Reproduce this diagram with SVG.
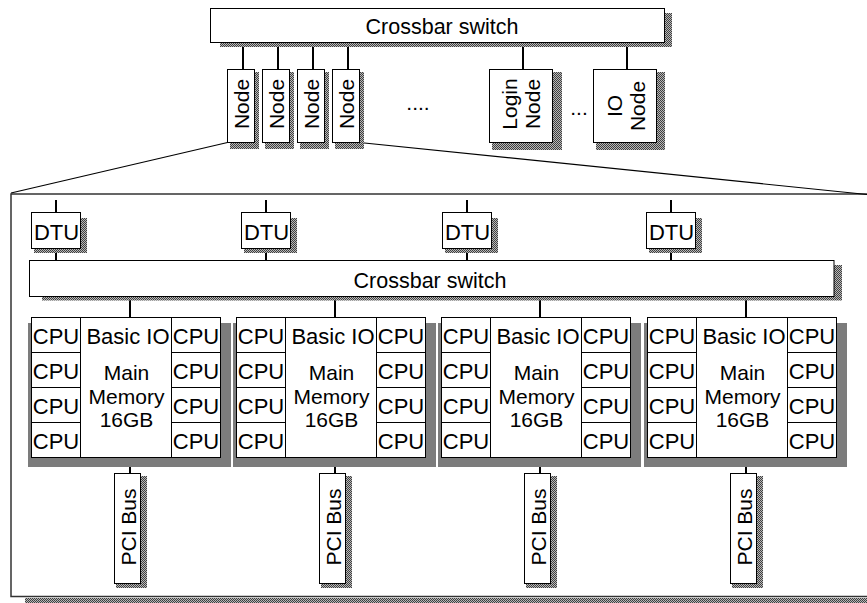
<svg xmlns="http://www.w3.org/2000/svg" width="867" height="603" viewBox="0 0 867 603">
<defs>
<pattern id="sh" width="2" height="2" patternUnits="userSpaceOnUse"><rect width="2" height="2" fill="#b8b8b8"/><rect width="1" height="1" fill="#404040"/><rect x="1" y="1" width="1" height="1" fill="#404040"/></pattern>
</defs>
<style>
.box{fill:#fff;stroke:#000;stroke-width:1}
.shd{fill:url(#sh)}
.t{font-family:"Liberation Sans",Arial,sans-serif;font-size:21px;fill:#000}
.b{font-size:21.5px}
.k{font-size:22px}
.m{text-anchor:middle}
.c{stroke:#000;stroke-width:2;fill:none}
.d{stroke:#000;stroke-width:1.2;fill:none}
</style>
<rect width="867" height="603" fill="#fff"/>

<g id="container">
<rect class="shd" x="25" y="598" width="850" height="5"/>
<rect x="11" y="194" width="870" height="402.5" fill="none" stroke="#333" stroke-width="1.5"/>
</g>

<g id="connectors">
<line class="d" x1="227.5" y1="142.5" x2="11" y2="193"/>
<line class="d" x1="359.5" y1="142.5" x2="867" y2="194.5"/>
<line class="c" x1="243" y1="42.5" x2="243" y2="69.5"/>
<line class="c" x1="278" y1="42.5" x2="278" y2="69.5"/>
<line class="c" x1="313" y1="42.5" x2="313" y2="69.5"/>
<line class="c" x1="348" y1="42.5" x2="348" y2="69.5"/>
<line class="c" x1="523" y1="42.5" x2="523" y2="69.5"/>
<line class="c" x1="627" y1="42.5" x2="627" y2="69.5"/>
<line class="c" x1="56" y1="200" x2="56" y2="212.5"/>
<line class="c" x1="266" y1="200" x2="266" y2="212.5"/>
<line class="c" x1="467" y1="200" x2="467" y2="212.5"/>
<line class="c" x1="671" y1="200" x2="671" y2="212.5"/>
<line class="c" x1="56" y1="248.5" x2="56" y2="260.5"/>
<line class="c" x1="266" y1="248.5" x2="266" y2="260.5"/>
<line class="c" x1="467" y1="248.5" x2="467" y2="260.5"/>
<line class="c" x1="671" y1="248.5" x2="671" y2="260.5"/>
<line class="c" x1="130" y1="296.5" x2="130" y2="317.5"/>
<line class="c" x1="335" y1="296.5" x2="335" y2="317.5"/>
<line class="c" x1="540" y1="296.5" x2="540" y2="317.5"/>
<line class="c" x1="746" y1="296.5" x2="746" y2="317.5"/>
<line class="c" x1="130" y1="457.5" x2="130" y2="473.5"/>
<line class="c" x1="335" y1="457.5" x2="335" y2="473.5"/>
<line class="c" x1="540" y1="457.5" x2="540" y2="473.5"/>
<line class="c" x1="746" y1="457.5" x2="746" y2="473.5"/>
</g>

<g id="crossbar-top">
<rect class="shd" x="220" y="13" width="452" height="34"/>
<rect class="box" x="210.5" y="8.5" width="454" height="34"/>
<text class="t b m" x="442" y="33.5">Crossbar switch</text>
</g>

<g id="node1">
<rect class="shd" x="230" y="72" width="29" height="77"/>
<rect class="box" x="227.5" y="69.5" width="27" height="73"/>
<text class="t m" transform="translate(248.5,104) rotate(-90)">Node</text>
</g>
<g id="node2">
<rect class="shd" x="265" y="72" width="29" height="77"/>
<rect class="box" x="262.5" y="69.5" width="27" height="73"/>
<text class="t m" transform="translate(283.5,104) rotate(-90)">Node</text>
</g>
<g id="node3">
<rect class="shd" x="300" y="72" width="29" height="77"/>
<rect class="box" x="297.5" y="69.5" width="27" height="73"/>
<text class="t m" transform="translate(318.5,104) rotate(-90)">Node</text>
</g>
<g id="node4">
<rect class="shd" x="335" y="72" width="29" height="77"/>
<rect class="box" x="332.5" y="69.5" width="27" height="73"/>
<text class="t m" transform="translate(353.5,104) rotate(-90)">Node</text>
</g>
<g id="dots1"><text class="t m" x="418" y="110">....</text></g>
<g id="login-node">
<rect class="shd" x="492" y="72" width="70" height="78"/>
<rect class="box" x="489.5" y="69.5" width="63" height="73"/>
<text class="t m" transform="translate(516.8,104) rotate(-90)">Login</text>
<text class="t m" transform="translate(540.2,104) rotate(-90)">Node</text>
</g>
<g id="dots2"><text class="t m" x="579" y="115">...</text></g>
<g id="io-node">
<rect class="shd" x="596" y="72" width="69" height="78"/>
<rect class="box" x="593.5" y="69.5" width="63" height="73"/>
<text class="t m" transform="translate(621.5,106) rotate(-90)">IO</text>
<text class="t m" transform="translate(645,106) rotate(-90)">Node</text>
</g>

<g id="dtu1">
<rect class="shd" x="34" y="218" width="53" height="35"/>
<rect class="box" x="31.5" y="212.5" width="49" height="36"/>
<text class="t k m" x="56.5" y="240">DTU</text>
</g>
<g id="dtu2">
<rect class="shd" x="244" y="218" width="53" height="35"/>
<rect class="box" x="241.5" y="212.5" width="49" height="36"/>
<text class="t k m" x="266.5" y="240">DTU</text>
</g>
<g id="dtu3">
<rect class="shd" x="445" y="218" width="53" height="35"/>
<rect class="box" x="442.5" y="212.5" width="49" height="36"/>
<text class="t k m" x="467.5" y="240">DTU</text>
</g>
<g id="dtu4">
<rect class="shd" x="649" y="218" width="53" height="35"/>
<rect class="box" x="646.5" y="212.5" width="49" height="36"/>
<text class="t k m" x="671.5" y="240">DTU</text>
</g>

<g id="crossbar-inner">
<rect class="shd" x="42" y="265" width="800" height="35.5"/>
<rect class="box" x="29.5" y="260.5" width="804.5" height="36"/>
<text class="t b m" x="430" y="287.5">Crossbar switch</text>
</g>

<g id="board1" transform="translate(31.5,0)">
<rect class="shd" x="-3.5" y="323" width="203" height="144"/>
<rect class="box" x="0" y="317.5" width="189" height="140"/>
<rect class="box" x="0" y="317.5" width="49" height="35"/><rect class="box" x="0" y="352.5" width="49" height="35"/><rect class="box" x="0" y="387.5" width="49" height="35"/><rect class="box" x="0" y="422.5" width="49" height="35"/>
<rect class="box" x="140" y="317.5" width="49" height="35"/><rect class="box" x="140" y="352.5" width="49" height="35"/><rect class="box" x="140" y="387.5" width="49" height="35"/><rect class="box" x="140" y="422.5" width="49" height="35"/>
<text class="t k m" x="24.5" y="343.5">CPU</text><text class="t k m" x="24.5" y="378.5">CPU</text><text class="t k m" x="24.5" y="413.5">CPU</text><text class="t k m" x="24.5" y="448.5">CPU</text>
<text class="t k m" x="164.5" y="343.5">CPU</text><text class="t k m" x="164.5" y="378.5">CPU</text><text class="t k m" x="164.5" y="413.5">CPU</text><text class="t k m" x="164.5" y="448.5">CPU</text>
<text class="t k m" x="96.5" y="343.5">Basic IO</text><text class="t m" x="95" y="380">Main</text><text class="t m" x="95" y="403.5">Memory</text><text class="t m" x="95" y="427">16GB</text>
</g>
<g id="board2" transform="translate(236.5,0)">
<rect class="shd" x="-3.5" y="323" width="203" height="144"/>
<rect class="box" x="0" y="317.5" width="189" height="140"/>
<rect class="box" x="0" y="317.5" width="49" height="35"/><rect class="box" x="0" y="352.5" width="49" height="35"/><rect class="box" x="0" y="387.5" width="49" height="35"/><rect class="box" x="0" y="422.5" width="49" height="35"/>
<rect class="box" x="140" y="317.5" width="49" height="35"/><rect class="box" x="140" y="352.5" width="49" height="35"/><rect class="box" x="140" y="387.5" width="49" height="35"/><rect class="box" x="140" y="422.5" width="49" height="35"/>
<text class="t k m" x="24.5" y="343.5">CPU</text><text class="t k m" x="24.5" y="378.5">CPU</text><text class="t k m" x="24.5" y="413.5">CPU</text><text class="t k m" x="24.5" y="448.5">CPU</text>
<text class="t k m" x="164.5" y="343.5">CPU</text><text class="t k m" x="164.5" y="378.5">CPU</text><text class="t k m" x="164.5" y="413.5">CPU</text><text class="t k m" x="164.5" y="448.5">CPU</text>
<text class="t k m" x="96.5" y="343.5">Basic IO</text><text class="t m" x="95" y="380">Main</text><text class="t m" x="95" y="403.5">Memory</text><text class="t m" x="95" y="427">16GB</text>
</g>
<g id="board3" transform="translate(441.5,0)">
<rect class="shd" x="-3.5" y="323" width="203" height="144"/>
<rect class="box" x="0" y="317.5" width="189" height="140"/>
<rect class="box" x="0" y="317.5" width="49" height="35"/><rect class="box" x="0" y="352.5" width="49" height="35"/><rect class="box" x="0" y="387.5" width="49" height="35"/><rect class="box" x="0" y="422.5" width="49" height="35"/>
<rect class="box" x="140" y="317.5" width="49" height="35"/><rect class="box" x="140" y="352.5" width="49" height="35"/><rect class="box" x="140" y="387.5" width="49" height="35"/><rect class="box" x="140" y="422.5" width="49" height="35"/>
<text class="t k m" x="24.5" y="343.5">CPU</text><text class="t k m" x="24.5" y="378.5">CPU</text><text class="t k m" x="24.5" y="413.5">CPU</text><text class="t k m" x="24.5" y="448.5">CPU</text>
<text class="t k m" x="164.5" y="343.5">CPU</text><text class="t k m" x="164.5" y="378.5">CPU</text><text class="t k m" x="164.5" y="413.5">CPU</text><text class="t k m" x="164.5" y="448.5">CPU</text>
<text class="t k m" x="96.5" y="343.5">Basic IO</text><text class="t m" x="95" y="380">Main</text><text class="t m" x="95" y="403.5">Memory</text><text class="t m" x="95" y="427">16GB</text>
</g>
<g id="board4" transform="translate(647.5,0)">
<rect class="shd" x="-3.5" y="323" width="203" height="144"/>
<rect class="box" x="0" y="317.5" width="189" height="140"/>
<rect class="box" x="0" y="317.5" width="49" height="35"/><rect class="box" x="0" y="352.5" width="49" height="35"/><rect class="box" x="0" y="387.5" width="49" height="35"/><rect class="box" x="0" y="422.5" width="49" height="35"/>
<rect class="box" x="140" y="317.5" width="49" height="35"/><rect class="box" x="140" y="352.5" width="49" height="35"/><rect class="box" x="140" y="387.5" width="49" height="35"/><rect class="box" x="140" y="422.5" width="49" height="35"/>
<text class="t k m" x="24.5" y="343.5">CPU</text><text class="t k m" x="24.5" y="378.5">CPU</text><text class="t k m" x="24.5" y="413.5">CPU</text><text class="t k m" x="24.5" y="448.5">CPU</text>
<text class="t k m" x="164.5" y="343.5">CPU</text><text class="t k m" x="164.5" y="378.5">CPU</text><text class="t k m" x="164.5" y="413.5">CPU</text><text class="t k m" x="164.5" y="448.5">CPU</text>
<text class="t k m" x="96.5" y="343.5">Basic IO</text><text class="t m" x="95" y="380">Main</text><text class="t m" x="95" y="403.5">Memory</text><text class="t m" x="95" y="427">16GB</text>
</g>

<g id="pci1">
<rect class="shd" x="116" y="476" width="31" height="112"/>
<rect class="box" x="114.5" y="473.5" width="26" height="110"/>
<text class="t m" transform="translate(136,527) rotate(-90)">PCI Bus</text>
</g>
<g id="pci2">
<rect class="shd" x="321" y="476" width="31" height="112"/>
<rect class="box" x="319.5" y="473.5" width="26" height="110"/>
<text class="t m" transform="translate(341,527) rotate(-90)">PCI Bus</text>
</g>
<g id="pci3">
<rect class="shd" x="526" y="476" width="31" height="112"/>
<rect class="box" x="524.5" y="473.5" width="26" height="110"/>
<text class="t m" transform="translate(546,527) rotate(-90)">PCI Bus</text>
</g>
<g id="pci4">
<rect class="shd" x="732" y="476" width="31" height="112"/>
<rect class="box" x="730.5" y="473.5" width="26" height="110"/>
<text class="t m" transform="translate(752,527) rotate(-90)">PCI Bus</text>
</g>
</svg>
